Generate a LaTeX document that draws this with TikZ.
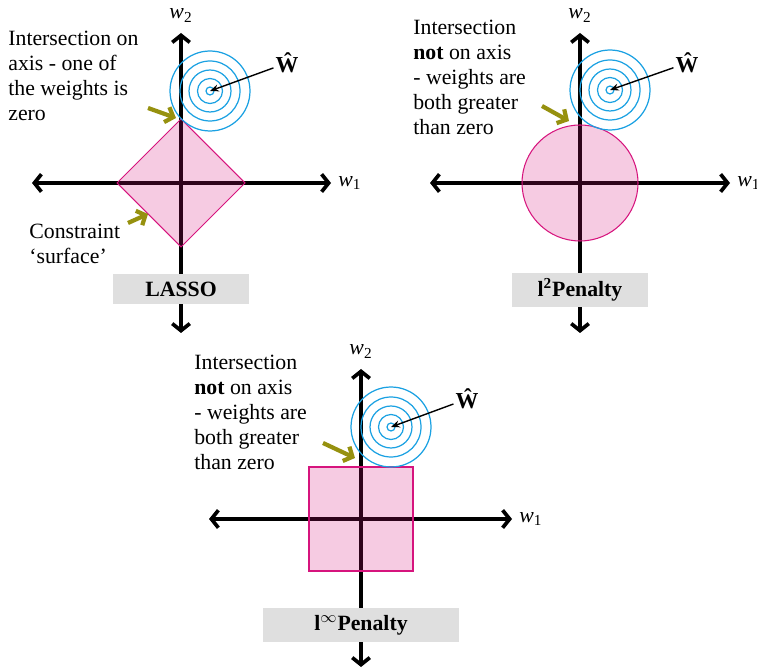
\documentclass[tikz,border=0pt]{standalone}
\usepackage{fontspec}
\setmainfont{Liberation Serif}
\usetikzlibrary{arrows.meta, positioning}
\definecolor{penaltypink}{RGB}{214, 20, 125}
\definecolor{contourblue}{RGB}{27, 161, 226}
\definecolor{hintolive}{RGB}{150, 145, 15}

\tikzset{
  axisline/.style={line width=2.1pt, {Straight Barb[length=4pt, width=10pt]}-{Straight Barb[length=4pt, width=10pt]}},
  region/.style={draw=penaltypink, line width=0.6pt, fill=penaltypink, fill opacity=0.22},
  contour/.style={draw=contourblue, line width=0.7pt},
  estimate/.style={line width=0.8pt, -{Stealth[length=5pt, width=4pt]}},
  hint/.style={draw=hintolive, line width=2.4pt, -{Straight Barb[length=4pt, width=9pt]}},
  note/.style={align=left, inner sep=0pt, anchor=north west, font=\fontsize{12.4}{14.2}\selectfont},
  penaltybox/.style={fill=gray!25, minimum height=0.6cm, font=\fontsize{12.4}{14}\selectfont\bfseries},
  axlabel/.style={font=\fontsize{12.4}{14}\selectfont, inner sep=2pt}
}

\begin{document}
\begin{tikzpicture}[x=0.02cm, y=-0.02cm]
  \useasboundingbox (0,0) rectangle (757,668);

  % LASSO
  \coordinate (o1) at (181,183);
  \coordinate (l1) at (32,183);  \coordinate (r1) at (331,183);
  \coordinate (t1) at (181,33);  \coordinate (b1) at (181,333);
  \draw[axisline] (l1) -- (r1);
  \draw[axisline] (b1) -- (t1);
  \node[axlabel, above=4pt of t1] (w2a) {\textit{w}\textsubscript{2}};
  \node[axlabel, right=2pt of r1] (w1a) {\textit{w}\textsubscript{1}};
  \draw[region] (181,119) -- (245,183) -- (181,247) -- (117,183) -- cycle;
  \coordinate (c1) at (210,91);
  \foreach \r in {0.08,0.25,0.42,0.6,0.8}
    \draw[contour] (c1) circle[radius=\r cm];
  \node[font=\fontsize{13}{14}\selectfont\bfseries, inner sep=1pt] (hat1) at (287,63) {\^W};
  \draw[estimate] (hat1) -- (c1);
  \node[penaltybox, minimum width=2.72cm] (lasso) at (181,289) {LASSO};
  \node[note] (n1) at (8,31) {Intersection on\\axis - one of\\the weights is\\zero};
  \node[note] (n2) at (29,224) {Constraint\\`surface'};
  \coordinate (h1s) at (148,108); \coordinate (h1e) at (176,118);
  \coordinate (h2s) at (128,223); \coordinate (h2e) at (148,214);
  \draw[hint] (h1s) -- (h1e);
  \draw[hint] (h2s) -- (h2e);

  % l2 penalty
  \coordinate (o2) at (580,183);
  \coordinate (l2) at (430,183);  \coordinate (r2) at (730,183);
  \coordinate (t2) at (580,33);   \coordinate (b2) at (580,333);
  \draw[axisline] (l2) -- (r2);
  \draw[axisline] (b2) -- (t2);
  \node[axlabel, above=4pt of t2] (w2b) {\textit{w}\textsubscript{2}};
  \node[axlabel, right=2pt of r2] (w1b) {\textit{w}\textsubscript{1}};
  \draw[region] (o2) circle[radius=1.16cm];
  \coordinate (c2) at (610,90);
  \foreach \r in {0.08,0.25,0.42,0.6,0.8}
    \draw[contour] (c2) circle[radius=\r cm];
  \node[font=\fontsize{13}{14}\selectfont\bfseries, inner sep=1pt] (hat2) at (687,63) {\^W};
  \draw[estimate] (hat2) -- (c2);
  \node[penaltybox, minimum width=2.72cm, minimum height=0.7cm] (ltwo) at (580,290) {l\textsuperscript{2}Penalty};
  \node[note] (n3) at (413,20) {Intersection\\\textbf{not} on axis\\- weights are\\both greater\\than zero};
  \coordinate (h3s) at (542,106); \coordinate (h3e) at (569,121);
  \draw[hint] (h3s) -- (h3e);

  % l-infinity penalty
  \coordinate (o3) at (361,519);
  \coordinate (l3) at (209,519);  \coordinate (r3) at (512,519);
  \coordinate (t3) at (361,369);  \coordinate (b3) at (361,667);
  \draw[axisline] (l3) -- (r3);
  \draw[axisline] (b3) -- (t3);
  \node[axlabel, above=4pt of t3] (w2c) {\textit{w}\textsubscript{2}};
  \node[axlabel, right=2pt of r3] (w1c) {\textit{w}\textsubscript{1}};
  \draw[region] (309,467) rectangle (413,571);
  \coordinate (c3) at (391,427);
  \foreach \r in {0.08,0.25,0.42,0.6,0.8}
    \draw[contour] (c3) circle[radius=\r cm];
  \node[font=\fontsize{13}{14}\selectfont\bfseries, inner sep=1pt] (hat3) at (467,399) {\^W};
  \draw[estimate] (hat3) -- (c3);
  \node[penaltybox, minimum width=3.94cm, minimum height=0.68cm] (linf) at (361,625) {l$^\infty$Penalty};
  \node[note] (n4) at (194,355) {Intersection\\\textbf{not} on axis\\- weights are\\both greater\\than zero};
  \coordinate (h4s) at (323,443); \coordinate (h4e) at (355,458);
  \draw[hint] (h4s) -- (h4e);
\end{tikzpicture}
\end{document}
